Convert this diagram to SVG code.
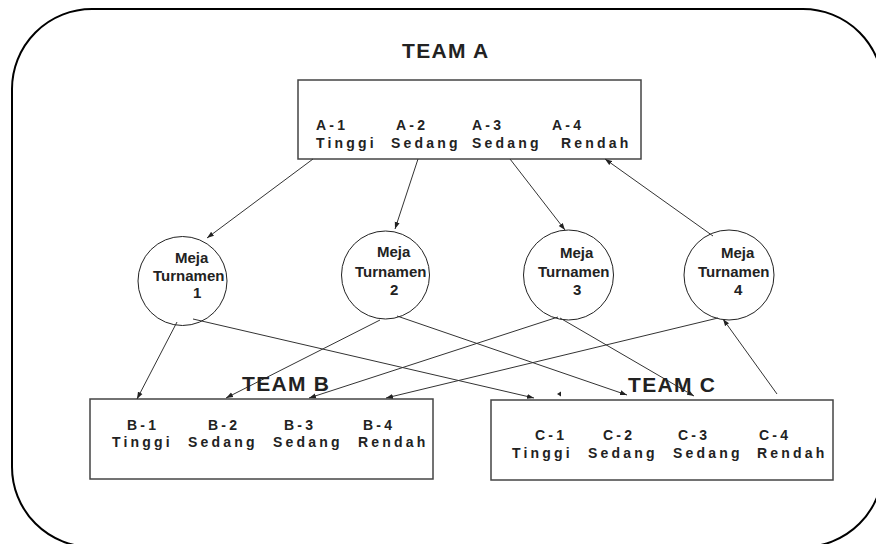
<svg xmlns="http://www.w3.org/2000/svg" width="876" height="544" viewBox="0 0 876 544">
<defs>
<marker id="ah" markerUnits="userSpaceOnUse" markerWidth="8" markerHeight="6" refX="7" refY="3" orient="auto">
<path d="M0,0.5 L7,3 L0,5.5 z" fill="#222"/>
</marker>
</defs>
<style>
.box{fill:#fff;stroke:#444;stroke-width:1.5}
.cir{fill:#fff;stroke:#222;stroke-width:1}
.con line{stroke:#333;stroke-width:1;fill:none}
.title{font-family:"Liberation Sans",Arial,sans-serif;font-weight:bold;font-size:21px;fill:#222;letter-spacing:1.3px}
.lbl{font-family:"Liberation Sans",Arial,sans-serif;font-weight:bold;font-size:14px;fill:#222;letter-spacing:3.2px}
.ct{font-family:"Liberation Sans",Arial,sans-serif;font-weight:bold;font-size:15px;fill:#222}
</style>
<rect x="12" y="9" width="871" height="538" rx="80" ry="80" fill="#fff" stroke="#000" stroke-width="2"/>

<g id="teamA">
<rect class="box" x="298" y="80" width="343" height="79"/>
<text class="title" x="402" y="58">TEAM A</text>
<text class="lbl" x="316" y="130">A-1</text>
<text class="lbl" x="316" y="148">Tinggi</text>
<text class="lbl" x="396" y="130">A-2</text>
<text class="lbl" x="391" y="148">Sedang</text>
<text class="lbl" x="472" y="130">A-3</text>
<text class="lbl" x="472" y="148">Sedang</text>
<text class="lbl" x="552" y="130">A-4</text>
<text class="lbl" x="561" y="148">Rendah</text>
</g>

<g id="meja1">
<circle class="cir" cx="182.5" cy="281" r="44.5"/>
<text class="ct" x="175" y="263">Meja</text>
<text class="ct" x="153" y="280.5">Turnamen</text>
<text class="ct" x="193" y="297.5">1</text>
</g>
<g id="meja2">
<circle class="cir" cx="385.5" cy="275" r="44"/>
<text class="ct" x="377" y="257">Meja</text>
<text class="ct" x="355" y="276.5">Turnamen</text>
<text class="ct" x="390" y="294.5">2</text>
</g>
<g id="meja3">
<circle class="cir" cx="568.5" cy="275" r="45"/>
<text class="ct" x="560" y="258">Meja</text>
<text class="ct" x="538" y="277">Turnamen</text>
<text class="ct" x="573" y="295">3</text>
</g>
<g id="meja4">
<circle class="cir" cx="729" cy="275" r="45"/>
<text class="ct" x="721" y="258">Meja</text>
<text class="ct" x="698" y="277">Turnamen</text>
<text class="ct" x="734" y="295">4</text>
</g>

<g id="teamB">
<rect class="box" x="90" y="399" width="343" height="80"/>
<text class="lbl" x="127" y="430">B-1</text>
<text class="lbl" x="112" y="447">Tinggi</text>
<text class="lbl" x="208" y="430">B-2</text>
<text class="lbl" x="188" y="447">Sedang</text>
<text class="lbl" x="284" y="430">B-3</text>
<text class="lbl" x="273" y="447">Sedang</text>
<text class="lbl" x="363" y="430">B-4</text>
<text class="lbl" x="358" y="447">Rendah</text>
</g>

<g id="teamC">
<rect class="box" x="491" y="400" width="342" height="80"/>
<text class="lbl" x="535" y="440">C-1</text>
<text class="lbl" x="512" y="458">Tinggi</text>
<text class="lbl" x="603" y="440">C-2</text>
<text class="lbl" x="588" y="458">Sedang</text>
<text class="lbl" x="678" y="440">C-3</text>
<text class="lbl" x="673" y="458">Sedang</text>
<text class="lbl" x="759" y="440">C-4</text>
<text class="lbl" x="757" y="458">Rendah</text>
</g>

<g id="connectors" class="con">
<line x1="313" y1="159" x2="207" y2="238" marker-end="url(#ah)"/>
<line x1="418" y1="159" x2="395" y2="229" marker-end="url(#ah)"/>
<line x1="510" y1="159" x2="565" y2="230" marker-end="url(#ah)"/>
<line x1="713" y1="236" x2="605" y2="159" marker-end="url(#ah)"/>
<line x1="177" y1="322" x2="137" y2="399" marker-end="url(#ah)"/>
<line x1="193" y1="319" x2="534" y2="398" marker-end="url(#ah)"/>
<line x1="380" y1="320" x2="226" y2="398" marker-end="url(#ah)"/>
<line x1="397" y1="316" x2="627" y2="395" marker-end="url(#ah)"/>
<line x1="558" y1="317" x2="309" y2="398" marker-end="url(#ah)"/>
<line x1="560" y1="318" x2="694" y2="396" marker-end="url(#ah)"/>
<line x1="718" y1="318" x2="386" y2="398" marker-end="url(#ah)"/>
<line x1="777" y1="394" x2="723" y2="319" marker-end="url(#ah)"/>
<path d="M557,394 L561,391.5 L561,396.5 z" fill="#222"/>
</g>

<text class="title" x="242" y="391">TEAM B</text>
<text class="title" x="628" y="392">TEAM C</text>
</svg>
